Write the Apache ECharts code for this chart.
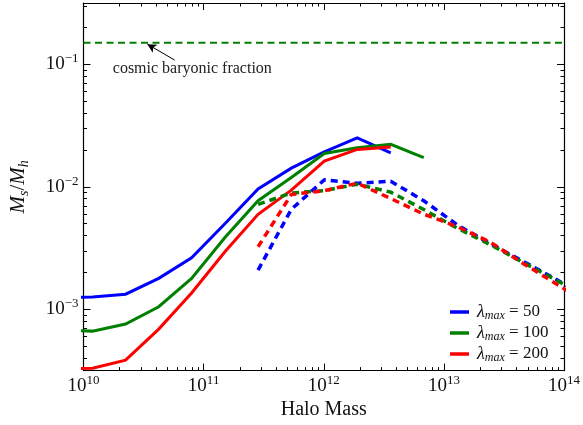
<!DOCTYPE html>
<html>
<head>
<meta charset="utf-8">
<script src="https://cdn.jsdelivr.net/npm/echarts@6/dist/echarts.min.js"></script>
<style>
  html, body { margin: 0; padding: 0; background: #fff; }
  #chart { width: 583px; height: 425px; }
</style>
</head>
<body>
<div id="chart"></div>
<script>
// halo mass bins (solid curves), first bin lies left of the axis and gets clipped
const massSolid = [6.3e9, 1.19e10, 2.24e10, 4.23e10, 7.94e10, 1.51e11, 2.84e11, 5.37e11, 1.01e12, 1.9e12, 3.61e12, 6.8e12];
const blueSolid = [1.25e-3, 1.26e-3, 1.33e-3, 1.79e-3, 2.63e-3, 5.02e-3, 9.6e-3, 1.42e-2, 1.93e-2, 2.51e-2, 1.89e-2];
const greenSolid = [6.8e-4, 6.64e-4, 7.58e-4, 1.05e-3, 1.79e-3, 3.88e-3, 7.7e-3, 1.19e-2, 1.87e-2, 2.08e-2, 2.22e-2, 1.73e-2];
const redSolid = [3.25e-4, 3.31e-4, 3.85e-4, 6.9e-4, 1.36e-3, 2.96e-3, 5.97e-3, 9.4e-3, 1.62e-2, 2.02e-2, 2.11e-2];

// dashed curves, last bin lies right of the axis
const massDashed = [2.84e11, 5.37e11, 1.01e12, 1.9e12, 3.61e12, 6.8e12, 1.29e13, 2.43e13, 4.57e13, 8.65e13, 1.63e14];
const blueDashed = [2.09e-3, 6.55e-3, 1.14e-2, 1.07e-2, 1.11e-2, 7.69e-3, 4.9e-3, 3.43e-3, 2.47e-3, 1.75e-3, 1.23e-3];
const greenDashed = [7.18e-3, 8.91e-3, 9.3e-3, 1.05e-2, 9.04e-3, 6.52e-3, 4.6e-3, 3.37e-3, 2.41e-3, 1.73e-3, 1.21e-3];
const redDashed = [3.24e-3, 8.65e-3, 9.3e-3, 1.07e-2, 8.02e-3, 5.98e-3, 4.73e-3, 3.54e-3, 2.37e-3, 1.61e-3, 1.09e-3];

const baryonFraction = 0.15;
const lambdaMax = [50, 100, 200];
const colors = ['#0000ff', '#008000', '#ff0000'];

// tick labels (powers of ten)
const xExponents = [10, 11, 12, 13, 14];
const yExponents = [-3, -2, -1];
const xRange = [10, 14];
const yRange = [-3.5, -0.5];

const lg = Math.log10;
const pairs = (xs, ys) => ys.map((y, i) => [lg(xs[i]), lg(y)]);

function minorTicks(range) {
    const out = [];
    for (let n = Math.floor(range[0]) - 1; n <= Math.ceil(range[1]); n++) {
        for (let k = 2; k <= 9; k++) {
            const v = n + lg(k);
            if (v > range[0] && v < range[1]) out.push(v);
        }
    }
    return out;
}

const FONT = 'Liberation Serif';
const supRich = {
    b: { fontFamily: FONT, fontSize: 19, color: '#111', lineHeight: 24 },
    s: { fontFamily: FONT, fontSize: 13, color: '#111', lineHeight: 11, verticalAlign: 'top' }
};
const powLabel = v => '{b|10}{s|' + String(Math.round(v)).replace('-', '\u2212') + '}';

function axis(position, range, ticks, len, labelled, mainLine) {
    const a = {
        type: 'value',
        position: position,
        min: range[0],
        max: range[1],
        gridIndex: 0,
        splitLine: { show: false },
        axisLine: { show: mainLine, onZero: false, lineStyle: { color: '#000', width: 1.2 } },
        axisTick: { show: true, inside: true, length: len, customValues: ticks, lineStyle: { color: '#000', width: 1 } },
        axisLabel: { show: false }
    };
    if (labelled) {
        a.axisLabel = {
            show: true, customValues: ticks, formatter: powLabel, rich: supRich,
            margin: position === 'bottom' ? 3 : 5
        };
    }
    return a;
}

const xAxes = [
    axis('bottom', xRange, xExponents, 7, true, true),
    axis('bottom', xRange, minorTicks(xRange), 3.5, false, false),
    axis('top', xRange, xExponents, 7, false, true),
    axis('top', xRange, minorTicks(xRange), 3.5, false, false)
];
xAxes[0].name = 'Halo Mass';
xAxes[0].nameLocation = 'middle';
xAxes[0].nameGap = 28;
xAxes[0].nameTextStyle = { fontFamily: FONT, fontSize: 20, color: '#111' };

const yAxes = [
    axis('left', yRange, yExponents, 7, true, true),
    axis('left', yRange, minorTicks(yRange), 3.5, false, false),
    axis('right', yRange, yExponents, 7, false, true),
    axis('right', yRange, minorTicks(yRange), 3.5, false, false)
];
yAxes[0].name = '{i|M}{sub|s}{n|/}{i|M}{sub|h}';
yAxes[0].nameLocation = 'middle';
yAxes[0].nameRotate = 90;
yAxes[0].nameGap = 52;
yAxes[0].nameTextStyle = {
    rich: {
        i: { fontFamily: FONT, fontStyle: 'italic', fontSize: 21, color: '#111', lineHeight: 26 },
        n: { fontFamily: FONT, fontSize: 21, color: '#111', lineHeight: 26 },
        sub: { fontFamily: FONT, fontStyle: 'italic', fontSize: 14, color: '#111', lineHeight: 16, verticalAlign: 'bottom' }
    }
};

const solidSets = [blueSolid, greenSolid, redSolid];
const dashedSets = [blueDashed, greenDashed, redDashed];
const names = lambdaMax.map(v => '\u03bbmax = ' + v);

const series = [];
solidSets.forEach((ys, i) => {
    series.push({
        name: names[i], type: 'line', data: pairs(massSolid, ys),
        symbol: 'none', clip: true, z: 3,
        lineStyle: { color: colors[i], width: 3, join: 'miter' },
        itemStyle: { color: colors[i] }
    });
});
dashedSets.forEach((ys, i) => {
    series.push({
        name: names[i] + ' dashed', type: 'line', data: pairs(massDashed, ys),
        symbol: 'none', clip: true, z: 3,
        lineStyle: { color: colors[i], width: 3.5, type: [7, 5], cap: 'butt' },
        itemStyle: { color: colors[i] }
    });
});
series.push({
    name: 'baryon', type: 'line',
    data: [[xRange[0], lg(baryonFraction)], [xRange[1], lg(baryonFraction)]],
    symbol: 'none', clip: true, z: 2,
    lineStyle: { color: '#008000', width: 2, type: [7, 4.5] },
    markPoint: {
        silent: true,
        symbol: 'circle', symbolSize: 1,
        itemStyle: { color: 'rgba(0,0,0,0)' },
        label: { show: true, position: 'inside', fontFamily: FONT, fontSize: 16, color: '#222', formatter: 'cosmic baryonic fraction' },
        data: [{ coord: [lg(8.05e10), lg(0.0916)] }]
    },
    markLine: {
        silent: true,
        symbol: ['none', 'arrow'],
        symbolSize: [7, 9],
        label: { show: false },
        lineStyle: { color: '#000', width: 1, type: 'solid' },
        data: [[{ coord: [lg(5.75e10), lg(0.108)] }, { coord: [lg(3.4e10), lg(0.146)] }]]
    }
});

const chart = echarts.init(document.getElementById('chart'), null, { renderer: 'canvas' });
chart.setOption({
    animation: false,
    backgroundColor: '#fff',
    grid: { left: 81, top: 3, right: 16.5, bottom: 49.5, containLabel: false },
    xAxis: xAxes,
    yAxis: yAxes,
    legend: {
        data: names,
        orient: 'vertical',
        left: 445,
        top: 298,
        icon: 'rect',
        itemWidth: 19,
        itemHeight: 3.5,
        itemGap: 2,
        formatter: n => '{l|\u03bb}{m|max}{e| = ' + n.split('= ')[1] + '}',
        textStyle: {
            padding: [0, 0, 0, 3],
            rich: {
                l: { fontFamily: FONT, fontStyle: 'italic', fontSize: 18, color: '#111', lineHeight: 20 },
                m: { fontFamily: FONT, fontStyle: 'italic', fontSize: 12, color: '#111', lineHeight: 14, verticalAlign: 'bottom' },
                e: { fontFamily: FONT, fontSize: 17, color: '#111', lineHeight: 20 }
            }
        }
    },
    series: series
});
</script>
</body>
</html>
